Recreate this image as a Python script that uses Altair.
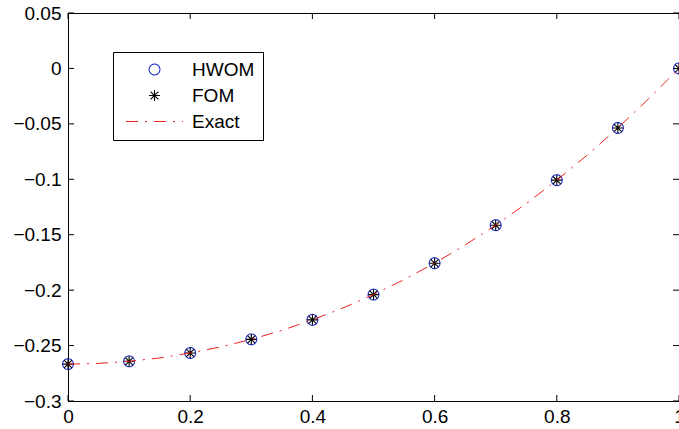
import altair as alt
import pandas as pd

# ---- data ----
x_pts = [0.0, 0.1, 0.2, 0.3, 0.4, 0.5, 0.6, 0.7, 0.8, 0.9, 1.0]
hwom = [-0.2667, -0.2642, -0.2567, -0.2444, -0.2268, -0.2040, -0.1757, -0.1414, -0.1008, -0.0537, 0.0]
fom = [-0.2667, -0.2642, -0.2567, -0.2444, -0.2268, -0.2040, -0.1757, -0.1414, -0.1008, -0.0537, 0.0]

x_exact = [0.0, 0.05, 0.1, 0.15, 0.2, 0.25, 0.3, 0.35, 0.4, 0.45, 0.5,
           0.55, 0.6, 0.65, 0.7, 0.75, 0.8, 0.85, 0.9, 0.95, 1.0]
exact = [-0.2667, -0.2661, -0.2642, -0.2612, -0.2567, -0.2512, -0.2444, -0.2363, -0.2268, -0.2161, -0.2040,
         -0.1905, -0.1757, -0.1593, -0.1414, -0.1219, -0.1008, -0.0781, -0.0537, -0.0276, 0.0]

series_names = ["HWOM", "FOM", "Exact"]
x_ticks = [0, 0.2, 0.4, 0.6, 0.8, 1.0]
y_ticks = [-0.3, -0.25, -0.2, -0.15, -0.1, -0.05, 0, 0.05]

W, H = 611, 388
FONT = "Liberation Sans"
FS = 19
BLUE = "#2233cc"
RED = "#ee2222"
ASTERISK = ("M-1,0L1,0M0,-1L0,1M-0.7071,-0.7071L0.7071,0.7071"
            "M-0.7071,0.7071L0.7071,-0.7071")
LINE_SYM = "M-5.25,0L5.25,0"
DASH = [12, 7, 2, 7]

pts_df = pd.DataFrame({
    "x": x_pts + x_pts,
    "y": hwom + fom,
    "series": ["HWOM"] * len(x_pts) + ["FOM"] * len(x_pts),
})
line_df = pd.DataFrame({"x": x_exact, "y": exact})
xt_df = pd.DataFrame({"x": x_ticks})
yt_df = pd.DataFrame({"y": y_ticks})

xs = alt.Scale(domain=[0, 1], nice=False, zero=False)
ys = alt.Scale(domain=[-0.3, 0.05], nice=False, zero=False)
xaxis = alt.Axis(values=x_ticks, format="~g", title=None, tickSize=0, labelPadding=6,
                 grid=False, labelFlush=False, labelOverlap=False)
yaxis = alt.Axis(values=y_ticks, format="~g", title=None, tickSize=0, labelPadding=7,
                 grid=False, labelFlush=False, labelOverlap=False)


def X(field="x"):
    return alt.X(f"{field}:Q", scale=xs, axis=xaxis)


def Y(field="y"):
    return alt.Y(f"{field}:Q", scale=ys, axis=yaxis)


leg = alt.Legend(title=None, orient="none", legendX=45, legendY=39,
                 strokeColor="black", fillColor="white", padding=8,
                 rowPadding=6, symbolOffset=24, labelOffset=28,
                 labelFont=FONT, labelFontSize=FS, symbolSize=118,
                 labelColor="black", symbolStrokeWidth=1.1, cornerRadius=0)

points = alt.Chart(pts_df).mark_point(filled=False, strokeWidth=1.1, opacity=1, size=118).encode(
    x=X(), y=Y(),
    color=alt.Color("series:N", scale=alt.Scale(domain=series_names, range=[BLUE, "black", RED]),
                    legend=leg, sort=series_names),
    shape=alt.Shape("series:N", scale=alt.Scale(domain=series_names, range=["circle", ASTERISK, LINE_SYM]),
                    legend=leg, sort=series_names),
    strokeDash=alt.StrokeDash("series:N", scale=alt.Scale(domain=series_names, range=[[1, 0], [1, 0], DASH]),
                              legend=leg, sort=series_names),
)

line = alt.Chart(line_df).mark_line(color=RED, strokeWidth=1, strokeDash=DASH).encode(
    x=X(), y=Y()
)

tick_bottom = alt.Chart(xt_df).mark_rule(color="black", strokeWidth=1).encode(
    x=X(), y=alt.value(H), y2=alt.value(H - 6))
tick_top = alt.Chart(xt_df).mark_rule(color="black", strokeWidth=1).encode(
    x=X(), y=alt.value(0), y2=alt.value(6))
tick_left = alt.Chart(yt_df).mark_rule(color="black", strokeWidth=1).encode(
    y=Y(), x=alt.value(0), x2=alt.value(6))
tick_right = alt.Chart(yt_df).mark_rule(color="black", strokeWidth=1).encode(
    y=Y(), x=alt.value(W), x2=alt.value(W - 6))

chart = alt.layer(points, line, tick_bottom, tick_top, tick_left, tick_right).properties(
    width=W, height=H,
    autosize=alt.AutoSizeParams(type="none"),
    padding={"left": 68, "top": 13, "right": 0, "bottom": 28},
    background="white",
).configure_view(
    stroke="black", strokeWidth=1
).configure_axis(
    domainColor="black", domainWidth=1, labelFont=FONT, labelFontSize=FS,
    labelColor="black"
)

chart.save("out.html", embed_options={"renderer": "svg", "actions": False})
